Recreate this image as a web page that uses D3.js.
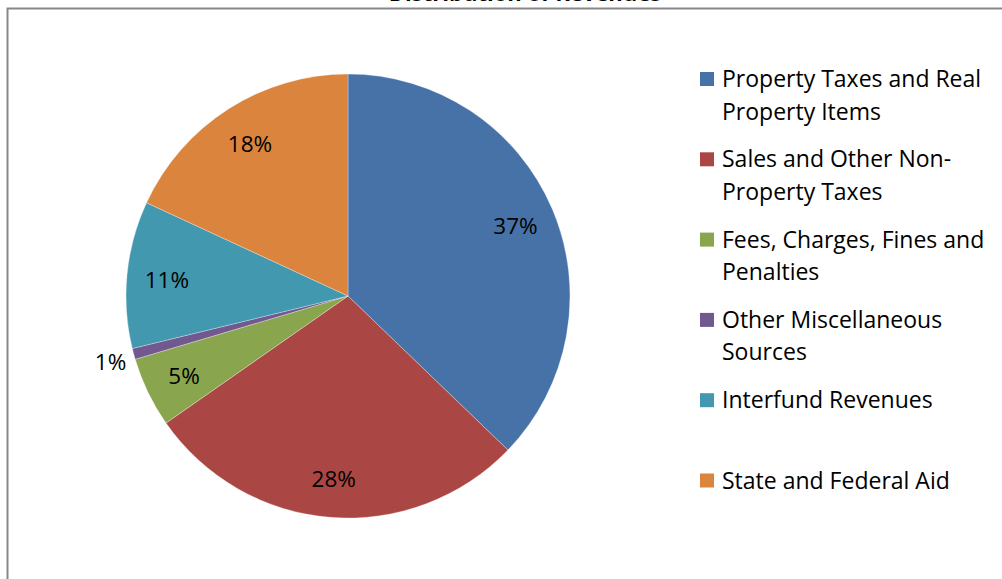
<!DOCTYPE html>
<html><head><meta charset="utf-8">
<script src="https://cdn.jsdelivr.net/npm/d3@7"></script>
<style>html,body{margin:0;padding:0;background:#fff;overflow:hidden}</style>
</head><body>
<svg id="chart" width="1002" height="579"></svg>
<script>
const categories = ["Property Taxes and Real Property Items","Sales and Other Non-Property Taxes","Fees, Charges, Fines and Penalties","Other Miscellaneous Sources","Interfund Revenues","State and Federal Aid"];
const legendLines = [["Property Taxes and Real","Property Items"],["Sales and Other Non-","Property Taxes"],["Fees, Charges, Fines and","Penalties"],["Other Miscellaneous","Sources"],["Interfund Revenues",""],["State and Federal Aid",""]];
const values = [37.2, 28.1, 5.1, 0.8, 10.7, 18.1];
const colors = ["#4672A8","#AA4643","#89A54E","#71588F","#4198AF","#DB843D"];
const title = "Distribution of Revenues";

const svg = d3.select("#chart");
const font = "'Open Sans', 'Noto Sans', sans-serif";

// frame
svg.append("rect").attr("x",7.5).attr("y",8.5).attr("width",1100).attr("height",700)
  .attr("fill","none").attr("stroke","#878787").attr("stroke-width",2);
svg.append("text").attr("x",525).attr("y",0.6).attr("text-anchor","middle")
  .attr("font-family",font).attr("font-size",22).attr("font-weight","bold").attr("fill","#000").text(title);

const cx = 348, cy = 296, R = 222;
const pie = d3.pie().sort(null).value(d=>d);
const arcs = pie(values);
const arc = d3.arc().innerRadius(0).outerRadius(R);
const g = svg.append("g").attr("transform",`translate(${cx},${cy})`);
g.selectAll("path").data(arcs).join("path")
  .attr("d",arc).attr("fill",(d,i)=>colors[i])
  .attr("stroke","rgba(255,255,255,0.5)").attr("stroke-width",0.6);

const fmt = v => Math.round(v) + "%";
g.selectAll("text.lbl").data(arcs).join("text").attr("class","lbl")
  .attr("transform",(d,i)=>{
    const a = (d.startAngle+d.endAngle)/2;
    const r = (d.data < 2) ? 246 : 182;
    return `translate(${Math.sin(a)*r},${-Math.cos(a)*r + 1.5})`;
  })
  .attr("text-anchor","middle").attr("dy","0.35em")
  .attr("font-family",font).attr("font-size",22.5).attr("fill","#000")
  .text(d=>fmt(d.data));

// legend
const lg = svg.append("g");
const items = lg.selectAll("g").data(categories).join("g")
  .attr("transform",(d,i)=>`translate(700,${79 + i*80.3})`);
items.append("rect").attr("x",0).attr("y",-7).attr("width",14).attr("height",14)
  .attr("fill",(d,i)=>colors[i]);
items.each(function(d,i){
  const t = d3.select(this);
  legendLines[i].forEach((ln,j)=>{
    if(!ln) return;
    t.append("text").attr("x",22).attr("y",j*32.5).attr("dy","0.35em")
      .attr("font-family",font).attr("font-size",23).attr("fill","#000").text(ln);
  });
});
</script>
</body></html>
